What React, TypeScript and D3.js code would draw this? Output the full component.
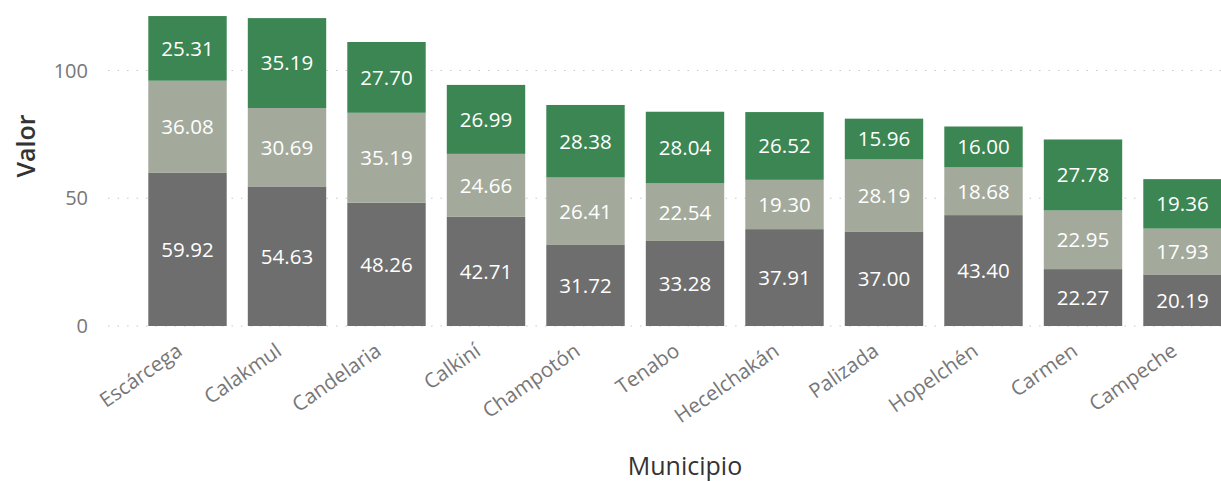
import React from "react";
import * as d3 from "d3";

const categories = ["Escárcega","Calakmul","Candelaria","Calkiní","Champotón","Tenabo","Hecelchakán","Palizada","Hopelchén","Carmen","Campeche"];
const serie1 = [59.92,54.63,48.26,42.71,31.72,33.28,37.91,37.00,43.40,22.27,20.19];
const serie2 = [36.08,30.69,35.19,24.66,26.41,22.54,19.30,28.19,18.68,22.95,17.93];
const serie3 = [25.31,35.19,27.70,26.99,28.38,28.04,26.52,15.96,16.00,27.78,19.36];
const yTicks = [0,50,100];
const seriesKeys = ["s1","s2","s3"];
const colors = ["#6e6e6e","#a3aa9c","#3b8652"];

const W = 1221, H = 481;
const FONT = "'Open Sans', 'Noto Sans', sans-serif";

export default function App() {
  const rows = categories.map((c, i) => ({ cat: c, s1: serie1[i], s2: serie2[i], s3: serie3[i] }));
  const stack = d3.stack<any>().keys(seriesKeys)(rows);
  const x = d3.scaleBand().domain(categories).range([148.3, 1221.7]).paddingInner(0.212).paddingOuter(0);
  const y = d3.scaleLinear().domain([0, 100]).range([326, 70.5]);
  return (
    <svg width={W} height={H} style={{ position: "absolute", left: 0, top: 0, background: "#fff" }} fontFamily={FONT}>
      {yTicks.map(t => (
        <g key={t}>
          <line x1={108} x2={W} y1={y(t)} y2={y(t)} stroke="#c8c8c8" strokeWidth={1.2} strokeDasharray="1.5 8" />
          <text x={88} y={y(t)} dy="0.36em" textAnchor="end" fontSize={20} fill="#777">{t}</text>
        </g>
      ))}
      {stack.map((layer, li) => (
        <g key={li}>
          {layer.map((d, i) => {
            const x0 = x(categories[i])!;
            const yt = y(d[1]), yb = y(d[0]);
            const val = (d[1] - d[0]).toFixed(2);
            return (
              <g key={i}>
                <rect x={x0} y={yt} width={x.bandwidth()} height={yb - yt} fill={colors[li]} />
                <text x={x0 + x.bandwidth() / 2} y={(yt + yb) / 2} dy="0.36em" textAnchor="middle" fontSize={20.5} fill="#fff">{val}</text>
              </g>
            );
          })}
        </g>
      ))}
      {categories.map(c => {
        const cx = x(c)! + x.bandwidth() / 2;
        return (
          <text key={c} transform={`translate(${cx - 4},${354}) rotate(-35)`} textAnchor="end" fontSize={20.5} fill="#777">{c}</text>
        );
      })}
      <text transform={`translate(35,146) rotate(-90)`} textAnchor="middle" fontSize={25} fontWeight={600} fill="#333">Valor</text>
      <text x={685} y={475} textAnchor="middle" fontSize={25} fill="#333">Municipio</text>
    </svg>
  );
}
